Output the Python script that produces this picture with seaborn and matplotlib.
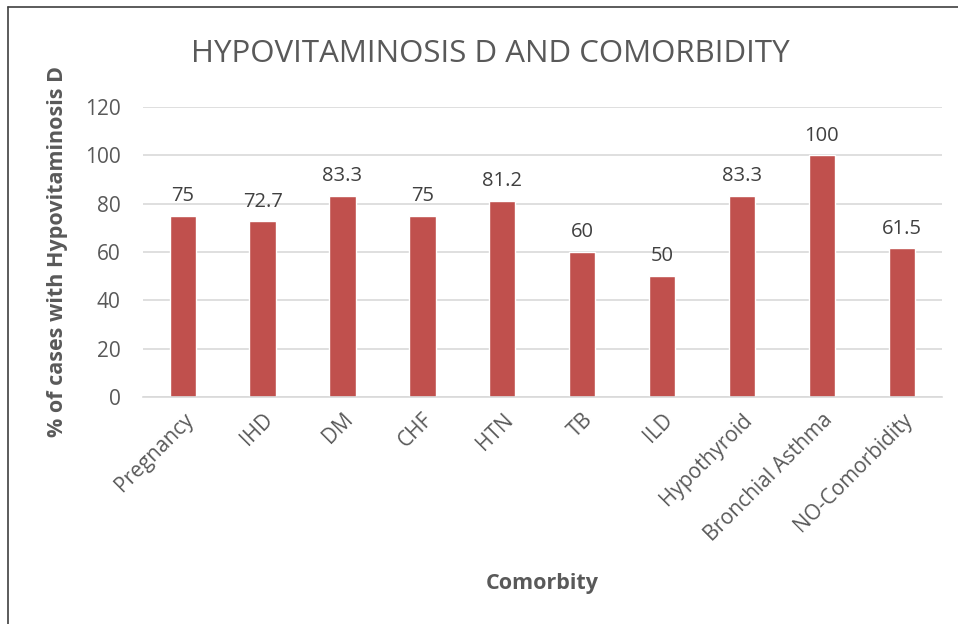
import pandas as pd
import seaborn as sns
import matplotlib.pyplot as plt
from matplotlib.lines import Line2D

conditions = ["Pregnancy", "IHD", "DM", "CHF", "HTN", "TB", "ILD",
              "Hypothyroid", "Bronchial Asthma", "NO-Comorbidity"]
percent = [75, 72.7, 83.3, 75, 81.2, 60, 50, 83.3, 100, 61.5]
value_labels = ["75", "72.7", "83.3", "75", "81.2", "60", "50", "83.3", "100", "61.5"]
y_ticks = [0, 20, 40, 60, 80, 100, 120]

data = pd.DataFrame({"condition": conditions, "percent": percent})

sns.set_style("white")
plt.rcParams['font.family'] = ['Open Sans', 'DejaVu Sans']

fig = plt.figure(figsize=(9.58, 6.24), dpi=100)
ax = fig.add_axes([0.149, 0.364, 0.834, 0.4645])

sns.barplot(data=data, x="condition", y="percent", color="#C0504D",
            width=0.33, saturation=1, ax=ax)

ax.set_ylim(0, 120)
ax.set_xlim(-0.5, len(conditions) - 0.5)
ax.set_yticks(y_ticks)
ax.yaxis.grid(True, color="#D9D9D9", linewidth=1.2)
ax.set_axisbelow(True)
for s in ["top", "right", "left"]:
    ax.spines[s].set_visible(False)
ax.spines["bottom"].set_color("#D9D9D9")
ax.spines["bottom"].set_linewidth(1.2)
ax.tick_params(axis="both", length=0, labelsize=15, colors="#595959")
ax.tick_params(axis="y", pad=16)
ax.tick_params(axis="x", pad=9)
plt.setp(ax.get_xticklabels(), rotation=45, ha="right", rotation_mode="anchor")

for i, (v, lab) in enumerate(zip(percent, value_labels)):
    ax.text(i, v + 4, lab, ha="center", va="bottom", fontsize=14.5, color="#404040")

ax.set_xlabel("Comorbity", fontsize=15.5, fontweight="bold", color="#595959", labelpad=20)
ax.set_ylabel("% of cases with Hypovitaminosis D", fontsize=15.5, fontweight="bold",
              color="#595959", labelpad=12)
fig.text(0.512, 0.914, "HYPOVITAMINOSIS D AND COMORBIDITY", ha="center", va="center",
         fontsize=22.5, color="#595959")

# chart border (left and top edges visible)
fig.add_artist(Line2D([0.008, 0.008], [0, 0.989], color="#404040", linewidth=1.2,
                      transform=fig.transFigure))
fig.add_artist(Line2D([0.008, 1], [0.989, 0.989], color="#404040", linewidth=1.2,
                      transform=fig.transFigure))

fig.savefig("out.png", dpi=100)
